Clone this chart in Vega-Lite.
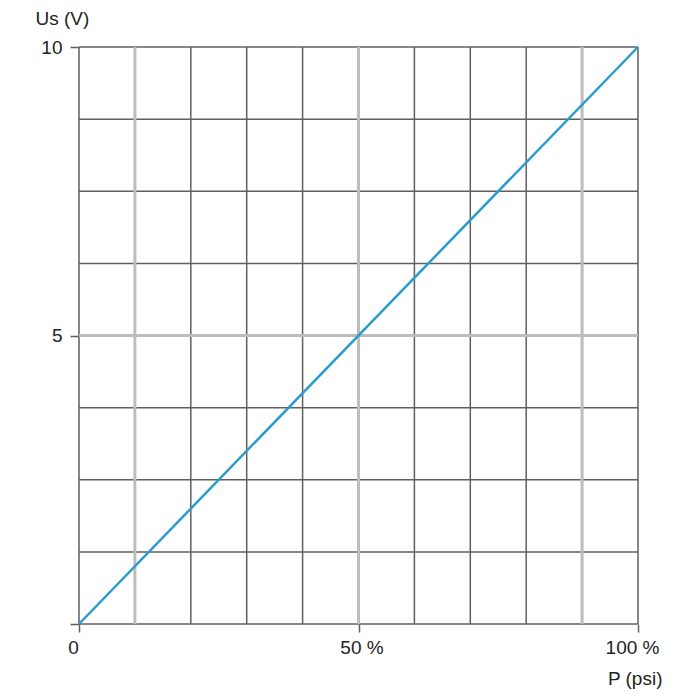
{
  "$schema": "https://vega.github.io/schema/vega-lite/v6.json",
  "width": 559,
  "height": 577,
  "autosize": {"type": "none"},
  "padding": {"left": 79, "top": 47, "right": 62, "bottom": 76},
  "background": "white",
  "config": {
    "view": {"stroke": null},
    "font": "Liberation Sans"
  },
  "datasets": {
    "vgrid": [
      {"p": 0, "kind": "minor"}, {"p": 10, "kind": "major"}, {"p": 20, "kind": "minor"},
      {"p": 30, "kind": "minor"}, {"p": 40, "kind": "minor"}, {"p": 50, "kind": "major"},
      {"p": 60, "kind": "minor"}, {"p": 70, "kind": "minor"}, {"p": 80, "kind": "minor"},
      {"p": 90, "kind": "major"}, {"p": 100, "kind": "minor"}
    ],
    "hgrid": [
      {"u": 0, "kind": "minor"}, {"u": 1.25, "kind": "minor"}, {"u": 2.5, "kind": "minor"},
      {"u": 3.75, "kind": "minor"}, {"u": 5, "kind": "major"}, {"u": 6.25, "kind": "minor"},
      {"u": 7.5, "kind": "minor"}, {"u": 8.75, "kind": "minor"}, {"u": 10, "kind": "minor"}
    ],
    "curve": [
      {"p": 0, "u": 0},
      {"p": 100, "u": 10}
    ]
  },
  "encoding": {
    "x": {
      "field": "p", "type": "quantitative",
      "scale": {"domain": [0, 100], "nice": false},
      "axis": {
        "values": [0, 50, 100],
        "labelExpr": "datum.value == 0 ? '0' : datum.value + ' %'",
        "domain": false, "grid": false,
        "tickSize": 8, "tickColor": "#5f5f5f", "tickWidth": 1.5,
        "labelPadding": 6, "labelFontSize": 19, "labelColor": "#222",
        "labelFlush": false,
        "labelOffset": {"condition": {"test": "datum.value == 50", "value": 3}, "value": -6},
        "title": "P (psi)", "titleFontSize": 19, "titleFontWeight": "normal", "titleColor": "#222",
        "titleX": 583, "titleY": 54, "titleAlign": "right", "titleBaseline": "middle"
      }
    },
    "y": {
      "field": "u", "type": "quantitative",
      "scale": {"domain": [0, 10], "nice": false},
      "axis": {
        "values": [0, 5, 10],
        "labelExpr": "datum.value == 0 ? '' : datum.label",
        "domain": false, "grid": false,
        "tickSize": 9, "tickColor": "#5f5f5f", "tickWidth": 1.5,
        "labelPadding": 8, "labelFontSize": 19, "labelColor": "#222",
        "labelFlush": false,
        "title": "Us (V)", "titleFontSize": 19, "titleFontWeight": "normal", "titleColor": "#222",
        "titleAngle": 0, "titleX": -44, "titleY": -29, "titleAlign": "left", "titleBaseline": "middle"
      }
    }
  },
  "layer": [
    {
      "data": {"name": "vgrid"},
      "transform": [{"filter": "datum.kind == 'minor'"}],
      "mark": {"type": "rule", "color": "#5f5f5f", "strokeWidth": 1.5},
      "encoding": {"y": null}
    },
    {
      "data": {"name": "hgrid"},
      "transform": [{"filter": "datum.kind == 'minor'"}],
      "mark": {"type": "rule", "color": "#5f5f5f", "strokeWidth": 1.5},
      "encoding": {"x": null}
    },
    {
      "data": {"name": "vgrid"},
      "transform": [{"filter": "datum.kind == 'major'"}],
      "mark": {"type": "rule", "color": "#bdbdbd", "strokeWidth": 3},
      "encoding": {"y": null}
    },
    {
      "data": {"name": "hgrid"},
      "transform": [{"filter": "datum.kind == 'major'"}],
      "mark": {"type": "rule", "color": "#bdbdbd", "strokeWidth": 3},
      "encoding": {"x": null}
    },
    {
      "data": {"name": "curve"},
      "mark": {"type": "line", "color": "#2b9ccc", "strokeWidth": 2.5},
      "encoding": {}
    }
  ]
}
